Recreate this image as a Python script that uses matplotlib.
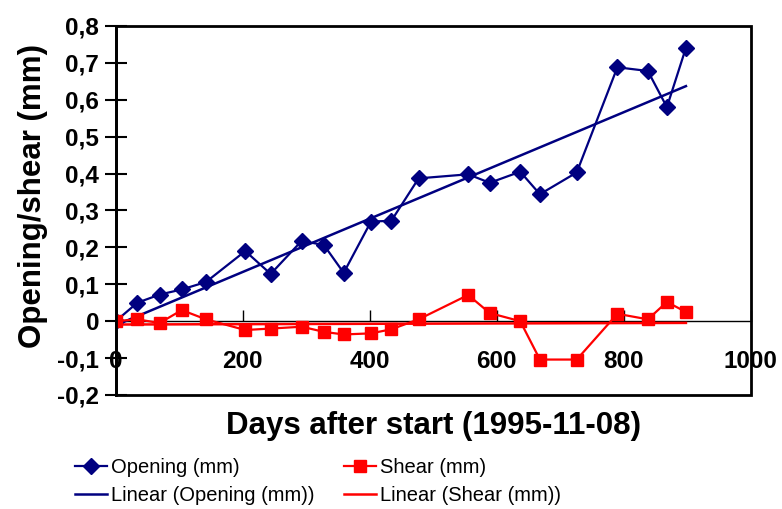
import numpy as np
import matplotlib
matplotlib.use("Agg")
import matplotlib.pyplot as plt
from matplotlib.patches import Rectangle
from matplotlib.ticker import FixedLocator, FixedFormatter

days = [0, 34, 69, 104, 142, 204, 244, 293, 328, 359, 402, 434, 477,
        555, 589, 637, 668, 726, 790, 838, 868, 898]
opening = [0.0, 0.05, 0.072, 0.086, 0.106, 0.19, 0.128, 0.218, 0.206, 0.131, 0.27, 0.272, 0.387,
           0.398, 0.375, 0.405, 0.344, 0.403, 0.688, 0.678, 0.58, 0.741]
shear = [0.0, 0.005, -0.005, 0.03, 0.005, -0.024, -0.02, -0.015, -0.029, -0.036, -0.033, -0.022, 0.005,
         0.071, 0.022, 0.0, -0.104, -0.104, 0.02, 0.005, 0.052, 0.025]

yticks = [-0.2, -0.1, 0.0, 0.1, 0.2, 0.3, 0.4, 0.5, 0.6, 0.7, 0.8]
ytick_labels = ["-0,2", "-0,1", "0", "0,1", "0,2", "0,3", "0,4", "0,5", "0,6", "0,7", "0,8"]
xticks = [0, 200, 400, 600, 800, 1000]
xtick_labels = ["0", "200", "400", "600", "800", "1000"]

plt.rcParams['font.family'] = ['Liberation Sans', 'DejaVu Sans']

navy = '#000080'
red = '#FF0000'

fig = plt.figure(figsize=(7.82, 5.09), dpi=100)
ax = fig.add_axes([0.148, 0.224, 0.812, 0.725])

x = np.array(days, dtype=float)
po = np.polyfit(x, opening, 1)
ps = np.polyfit(x, shear, 1)
xr = np.array([x.min(), x.max()])

h1, = ax.plot(days, opening, color=navy, lw=1.6, marker='D', markersize=8, label='Opening (mm)', zorder=4)
h2, = ax.plot(days, shear, color=red, lw=1.6, marker='s', markersize=9, label='Shear (mm)', zorder=4)
h3, = ax.plot(xr, np.polyval(po, xr), color=navy, lw=1.8, label='Linear (Opening (mm))', zorder=3)
h4, = ax.plot(xr, np.polyval(ps, xr), color=red, lw=1.8, label='Linear (Shear (mm))', zorder=3)

ax.set_xlim(0, 1000)
ax.set_ylim(-0.2, 0.8)

ax.yaxis.set_major_locator(FixedLocator(yticks))
ax.yaxis.set_major_formatter(FixedFormatter(ytick_labels))
ax.xaxis.set_major_locator(FixedLocator(xticks))
ax.xaxis.set_major_formatter(FixedFormatter(xtick_labels))

for s in ['top', 'right']:
    ax.spines[s].set_visible(False)
ax.spines['left'].set_linewidth(2)
ax.spines['bottom'].set_position(('data', 0))
ax.spines['bottom'].set_linewidth(1)
ax.add_patch(Rectangle((0, 0), 1, 1, transform=ax.transAxes, fill=False,
                       lw=2, edgecolor='black', zorder=5, clip_on=False))

ax.tick_params(axis='y', direction='inout', length=16, width=1.5, labelsize=17.5, pad=4)
ax.tick_params(axis='x', direction='in', length=8, width=1, labelsize=17.5, pad=21)
for lab in ax.get_xticklabels() + ax.get_yticklabels():
    lab.set_fontweight('bold')

ax.set_xlabel('Days after start (1995-11-08)', fontsize=22.5, fontweight='bold', va='center')
ax.set_ylabel('Opening/shear (mm)', fontsize=22.5, fontweight='bold', va='center')
ax.xaxis.set_label_coords(0.5, -0.083)
ax.yaxis.set_label_coords(-0.13, 0.54)

fig.legend([h1, h3, h2, h4], [h.get_label() for h in [h1, h3, h2, h4]],
           loc='upper left', bbox_to_anchor=(0.096, 0.100), ncol=2, frameon=False,
           prop={'family': 'Liberation Sans', 'size': 14.5},
           handlelength=1.6, handletextpad=0.2, columnspacing=1.45,
           labelspacing=0.45, borderaxespad=0, borderpad=0)

fig.savefig('out.png', dpi=100)
